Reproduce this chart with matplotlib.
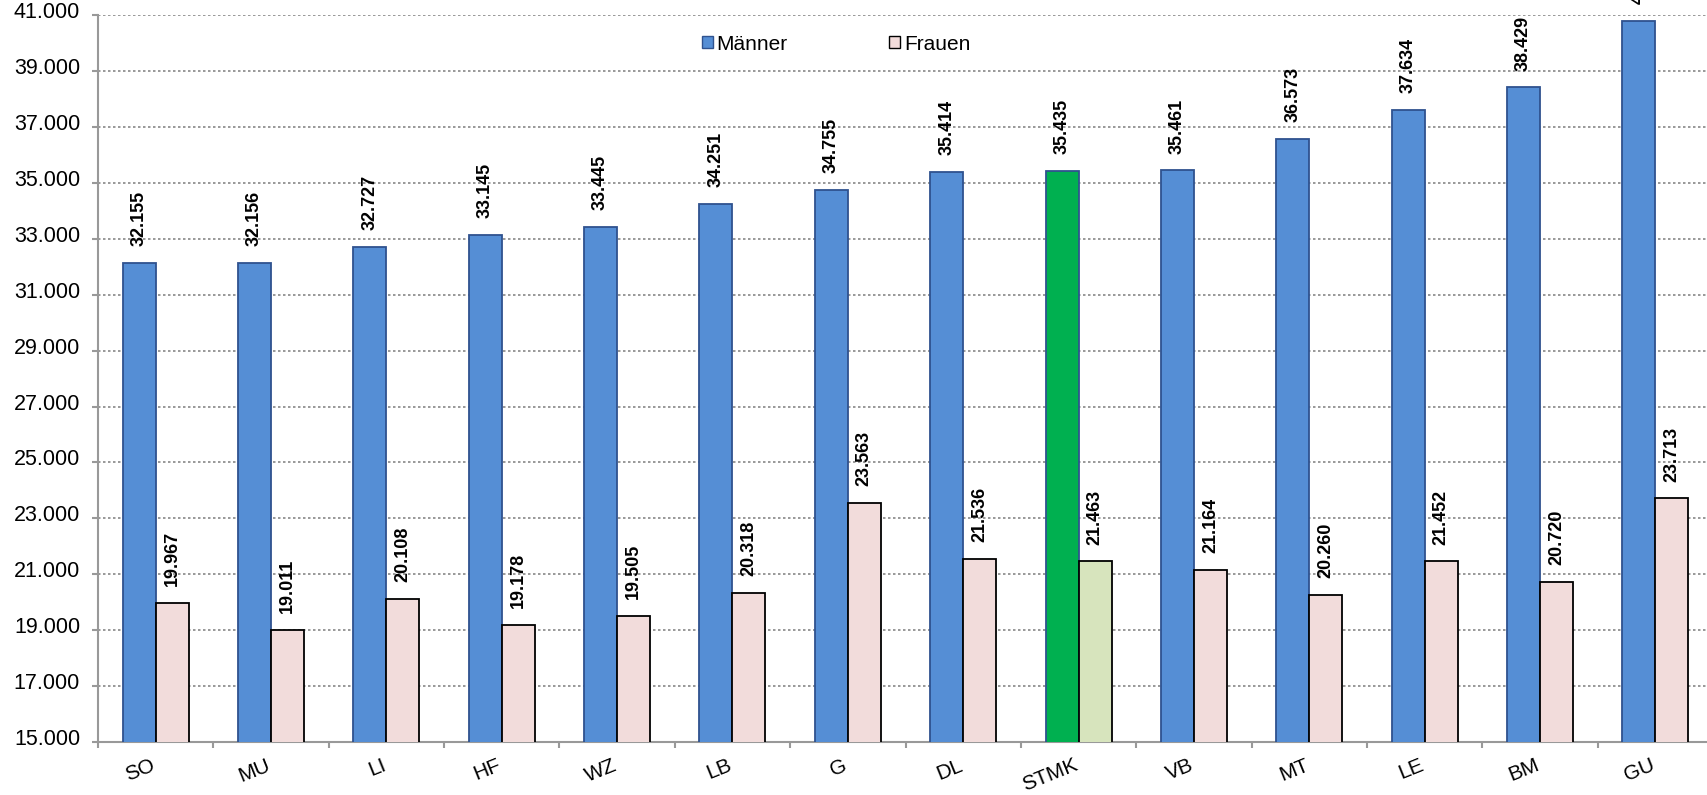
import matplotlib.pyplot as plt
import matplotlib.transforms as mtransforms
import numpy as np
from matplotlib.patches import Patch

plt.rcParams["font.family"] = ["Liberation Sans", "DejaVu Sans"]

regions = ["SO", "MU", "LI", "HF", "WZ", "LB", "G", "DL", "STMK",
           "VB", "MT", "LE", "BM", "GU"]
maenner = [32155, 32156, 32727, 33145, 33445, 34251, 34755, 35414, 35435,
           35461, 36573, 37634, 38429, 40800]
frauen = [19967, 19011, 20108, 19178, 19505, 20318, 23563, 21536, 21463,
          21164, 20260, 21452, 20720, 23713]

BLUE = "#558ed5"
BLUE_EDGE = "#2f528f"
PINK = "#f2dcdb"
GREEN = "#00b050"
LIGHT_GREEN = "#d7e4bd"
HIGHLIGHT = "STMK"

W = 0.286


def fmt(v):
    return f"{v:,}".replace(",", ".")


fig = plt.figure(figsize=(17.07, 7.95), dpi=100)
ax = fig.add_axes([98 / 1707, 53.3 / 795, 1615 / 1707, 726.2 / 795])

x = np.arange(len(regions))
m_colors = [GREEN if r == HIGHLIGHT else BLUE for r in regions]
f_colors = [LIGHT_GREEN if r == HIGHLIGHT else PINK for r in regions]

ax.bar(x - W / 2, maenner, W, color=m_colors, edgecolor=BLUE_EDGE,
       linewidth=1.3, zorder=3)
ax.bar(x + W / 2, frauen, W, color=f_colors, edgecolor="black",
       linewidth=1.3, zorder=3)

for xi, v in zip(x, maenner):
    ax.annotate(fmt(v), (xi - W / 2, v), xytext=(0, 12),
                textcoords="offset points", rotation=90, ha="center",
                va="bottom", fontsize=13, fontweight="bold",
                annotation_clip=False)
for xi, v in zip(x, frauen):
    ax.annotate(fmt(v), (xi + W / 2, v), xytext=(0, 12),
                textcoords="offset points", rotation=90, ha="center",
                va="bottom", fontsize=13, fontweight="bold",
                annotation_clip=False)

ax.set_xlim(-0.5, len(regions) - 0.5)
ax.set_ylim(15000, 41000)
ax.set_yticks(np.arange(15000, 41001, 2000))
ax.set_yticklabels([fmt(v) for v in range(15000, 41001, 2000)], fontsize=15.5)
ax.yaxis.grid(True, linestyle=(0, (1.5, 1.5)), color="#888888",
              linewidth=1.2, zorder=0)

ax.set_xticks(x)
ax.set_xticklabels(regions, fontsize=15, rotation=22, ha="right",
                   va="top", rotation_mode="anchor")
ax.tick_params(axis="x", length=0, pad=10)
ax.set_xticks(np.arange(-0.5, len(regions), 1.0), minor=True)
ax.tick_params(axis="x", which="minor", length=4.3, color="#999999", width=1.5)
ax.tick_params(axis="y", length=4.3, pad=8.6, color="#999999", width=1.5)

# nudge tick labels to where the original sits
shift_x = mtransforms.ScaledTranslation(-5 / 100, 0, fig.dpi_scale_trans)
for lbl in ax.get_xticklabels():
    lbl.set_transform(lbl.get_transform() + shift_x)
shift_y = mtransforms.ScaledTranslation(0, 5 / 100, fig.dpi_scale_trans)
for lbl in ax.get_yticklabels():
    lbl.set_transform(lbl.get_transform() + shift_y)

for s in ["top", "right"]:
    ax.spines[s].set_visible(False)
for s in ["left", "bottom"]:
    ax.spines[s].set_color("#999999")
    ax.spines[s].set_linewidth(1.5)

handles = [Patch(facecolor=BLUE, edgecolor=BLUE_EDGE, label="Männer"),
           Patch(facecolor=PINK, edgecolor="black", label="Frauen")]
fig.legend(handles=handles, loc="center",
           bbox_to_anchor=(836 / 1707, 1 - 44 / 795),
           ncol=2, frameon=False, fontsize=15, handlelength=0.53,
           handleheight=0.53, handletextpad=0.2, columnspacing=4.85)

fig.savefig("out.png", dpi=100)
